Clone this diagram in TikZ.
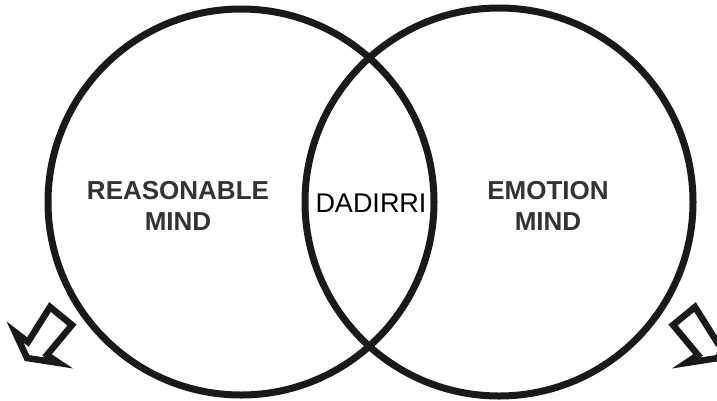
\documentclass[tikz,border=0pt]{standalone}
\usepackage{fontspec}
\setmainfont{Liberation Sans}

\tikzset{
  mindlabel/.style={font=\fontsize{26}{31}\selectfont\bfseries, text=black!80, align=center},
  outarrow/.style={line width=6.5pt, line join=miter, color=black!90},
}

\begin{document}
\begin{tikzpicture}[x=1pt,y=-1pt]
		\useasboundingbox (0,0) rectangle (717,400);
		\clip (0,0) rectangle (717,400);
		
		% Draw the two overlapping minds
		\draw[line width=7pt, color=black!90] (241,202) circle (193);
		\draw[line width=7pt, color=black!90] (499,202) circle (194);
		
		% Labels for the minds and their overlap
		\node[mindlabel] (reason) at (178,206) {REASONABLE\\MIND};
		\node[mindlabel] (emotion) at (548,206) {EMOTION\\MIND};
		\node[mindlabel, font=\fontsize{27}{31}\selectfont, text=black] (dadirri) at (371,203) {DADIRRI};
		
		% Hollow arrows pointing out at the bottom corners
		\draw[outarrow] (50,307) -- (72,325) -- (47,355) -- (59,363) -- (27,358) -- (15,332) -- (28,342) -- cycle;
		\draw[outarrow] (695,307) -- (673,325) -- (698,355) -- (686,363) -- (718,358) -- (730,332) -- (717,342) -- cycle;
		
	\end{tikzpicture}
\end{document}
